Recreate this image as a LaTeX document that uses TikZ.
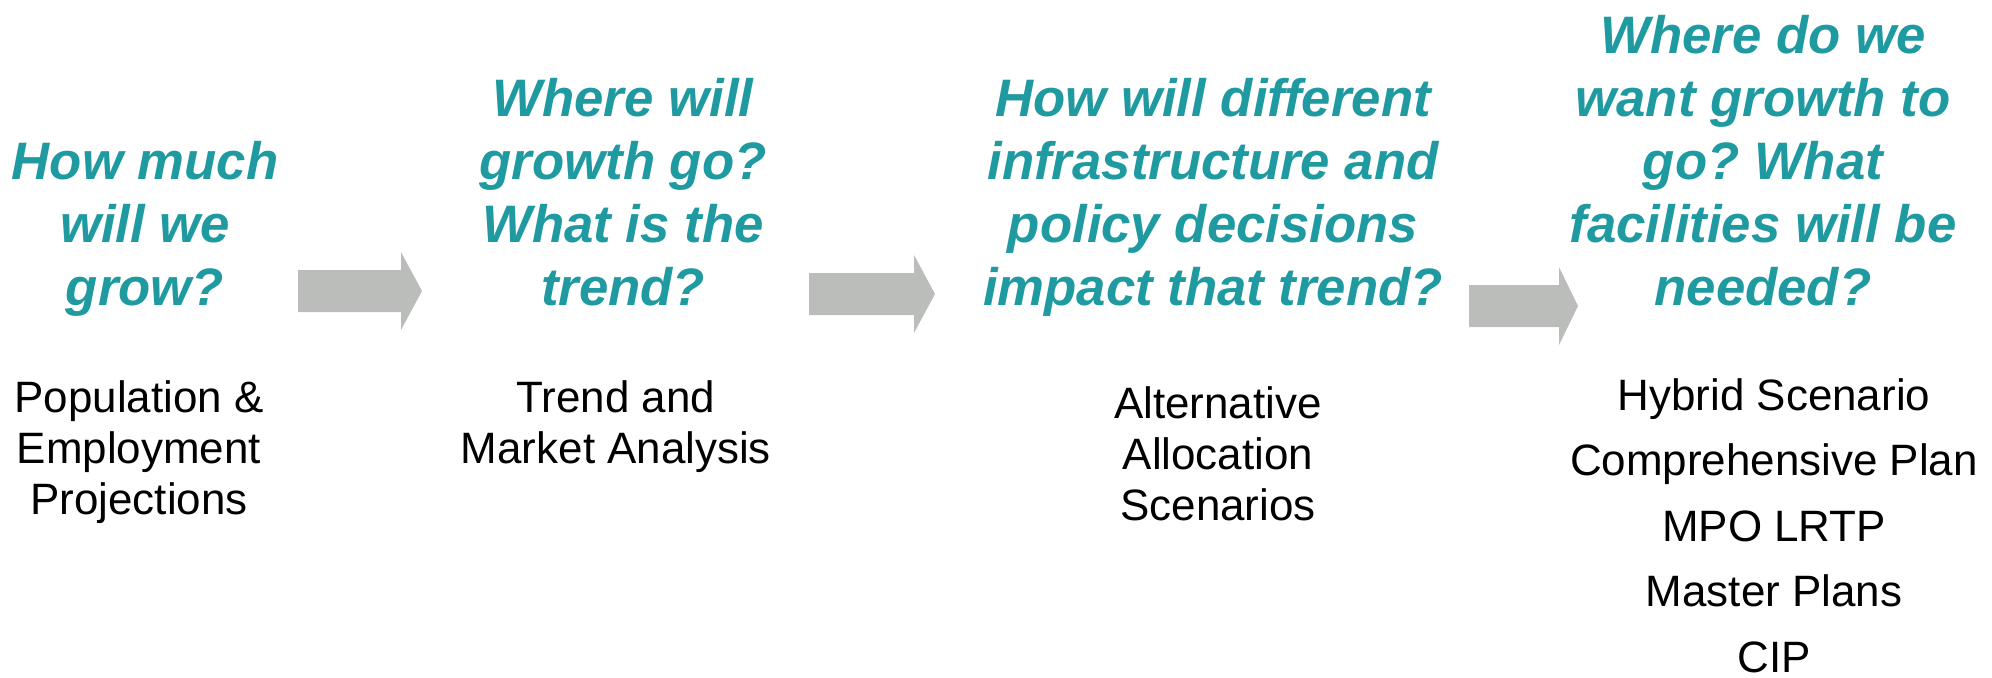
\documentclass[tikz,border=0pt]{standalone}
\usepackage{fontspec}
\setmainfont{Liberation Sans}
\usepackage{tikz}
\usetikzlibrary{positioning}
\definecolor{qteal}{RGB}{30,154,160}
\definecolor{flowgray}{RGB}{187,189,187}
\frenchspacing

\begin{document}
\begin{tikzpicture}[
    x=0.1mm, y=-0.1mm,
    % Questions
    question/.style={
        font=\fontsize{15}{17.9}\selectfont\bfseries\itshape,
        text=qteal, align=center, anchor=base, inner sep=0pt
    },
    % Answers
    answer/.style={
        font=\fontsize{12.5}{14.4}\selectfont,
        align=center, anchor=base, inner sep=0pt
    },
    products/.style={answer, font=\fontsize{12.5}{18.6}\selectfont},
    % Block arrows
    flow/.style={fill=flowgray}
]
    \useasboundingbox (0,0) rectangle (1992,677);

    % --- QUESTIONS (placed at the last line) ---
    \node[question] (Q-1) at (145,305) {How much\\will we\\grow?};
    \node[question] (Q-2) at (623,305) {Where will\\growth go?\\What is the\\trend?};
    \node[question] (Q-3) at (1213,305) {How will different\\infrastructure and\\policy decisions\\impact that trend?};
    \node[question] (Q-4) at (1763,305) {Where do we\\want growth to\\go? What\\facilities will be\\needed?};

    % --- ANSWERS ---
    \node[answer] (A-1) at (139,514) {Population \&\\Employment\\Projections};
    \node[answer] (A-2) at (616,463) {Trend and\\Market Analysis};
    \node[answer] (A-3) at (1218,520) {Alternative\\Allocation\\Scenarios};
    \node[products] (A-4) at (1774,672) {Hybrid Scenario\\Comprehensive Plan\\MPO LRTP\\Master Plans\\CIP};

    % --- ARROWS ---
    \foreach \xl/\xh/\xt/\yc in {298/401/422/291, 809/914/935/294, 1469/1559/1578/306} {
        \fill[flow] (\xl,\yc-21) -- (\xh,\yc-21) -- (\xh,\yc-39) -- (\xt,\yc)
            -- (\xh,\yc+39) -- (\xh,\yc+21) -- (\xl,\yc+21) -- cycle;
    }

\end{tikzpicture}
\end{document}
